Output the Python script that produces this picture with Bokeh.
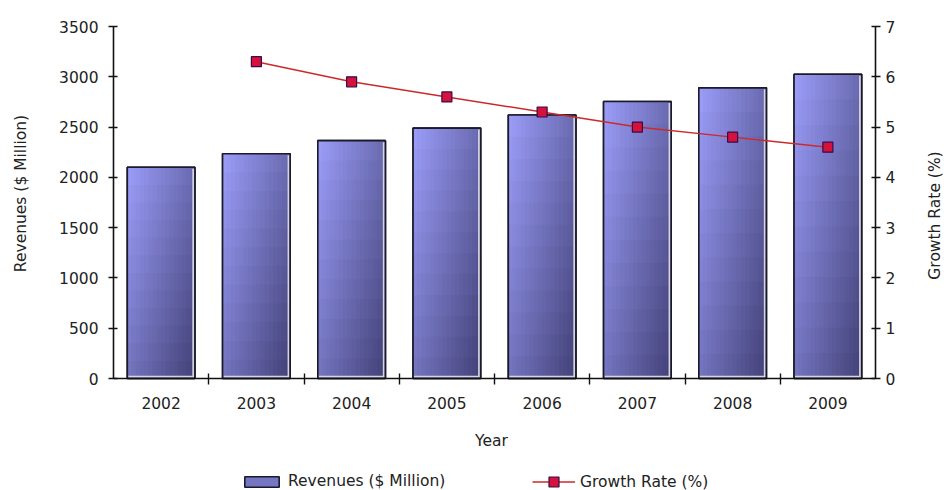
import math
from bokeh.plotting import figure
from bokeh.models import (Range1d, LinearAxis, FixedTicker, ColumnDataSource,
                          Legend, LegendItem, Label)
from bokeh.embed import file_html
from bokeh.resources import INLINE

years = ["2002", "2003", "2004", "2005", "2006", "2007", "2008", "2009"]
revenues = [2100, 2235, 2365, 2490, 2620, 2755, 2890, 3025]
growth_years = ["2003", "2004", "2005", "2006", "2007", "2008", "2009"]
growth = [6.3, 5.9, 5.6, 5.3, 5.0, 4.8, 4.6]

FONT = "DejaVu Sans"
TXT = "#222222"
FS = "15.5px"

W, H = 946, 490
FL, FR, FT, FB = 113, 875, 26, 378      # plotting area in pixels
NX = len(years)
YMAX, GMAX = 3500, 7
ux = (FR - FL) / NX                      # px per category
uy = (FB - FT)                           # px for full value span

p = figure(width=W, height=H, output_backend="svg", toolbar_location=None,
           x_range=Range1d(-FL / ux, NX + (W - FR) / ux),
           y_range=Range1d(-YMAX * (H - FB) / uy, YMAX + YMAX * FT / uy),
           min_border=0, background_fill_color="white",
           border_fill_color="white", outline_line_color=None)
p.grid.visible = False
p.xaxis.visible = False
p.yaxis.visible = False
p.extra_y_ranges = {"g": Range1d(-GMAX * (H - FB) / uy, GMAX + GMAX * FT / uy)}

def px_x(px):
    return (px - FL) / ux

def px_y(py):
    return (FB - py) / uy * YMAX

# gradient-filled bars (tiles)
BW = 0.71
N, M = 16, 12
light = (156, 158, 250)
dark = (66, 64, 118)
xc = [i + 0.5 for i in range(NX)]

bsrc = ColumnDataSource(dict(x=xc, top=revenues))
legend_bar = p.vbar(x="x", top="top", width=BW, source=bsrc, fill_color="#7476c4",
                    line_color="#1a1a2a", line_width=1.6)

L, R, B, T, C = [], [], [], [], []
for i, v in enumerate(revenues):
    cx = xc[i]
    for j in range(N):
        for k in range(M):
            L.append(cx - BW / 2 + BW * j / N)
            R.append(cx - BW / 2 + BW * (j + 1) / N + (0.012 if j < N - 1 else 0))
            B.append(v * k / M)
            T.append(v * (k + 1) / M + (12 if k < M - 1 else 0))
            t = 0.55 * (j + 0.5) / N + 0.45 * (1 - (k + 0.5) / M)
            c = tuple(int(round(light[q] + (dark[q] - light[q]) * t)) for q in range(3))
            C.append("#%02x%02x%02x" % c)
tiles = p.quad(left=L, right=R, bottom=B, top=T, fill_color=C, line_color=None)

# light inner edge on right and bottom of each bar
rx = [x + BW / 2 - 0.018 for x in xc]
p.segment(x0=rx, y0=[15] * NX, x1=rx, y1=[v - 15 for v in revenues],
          line_color="#d6d6e2", line_width=1.8)
p.segment(x0=[x - BW / 2 + 0.01 for x in xc], y0=[18] * NX,
          x1=[x + BW / 2 - 0.01 for x in xc], y1=[18] * NX,
          line_color="#d6d6e2", line_width=1.8)

outline = p.vbar(x="x", top="top", width=BW, source=bsrc, fill_color=None,
                 line_color="#1a1a2a", line_width=1.6)

# growth line
gx = [years.index(y) + 0.5 for y in growth_years]
gsrc = ColumnDataSource(dict(x=gx, y=growth))
gl = p.line("x", "y", source=gsrc, y_range_name="g", line_color="#cc2a2a", line_width=1.5)
gm = p.scatter("x", "y", source=gsrc, y_range_name="g", marker="square", size=10,
               fill_color="#d4123c", line_color="#3a0a4a", line_width=1.2)

def style(ax):
    ax.axis_line_color = "#111111"
    ax.axis_line_width = 1.6
    ax.major_tick_line_color = "#111111"
    ax.major_tick_line_width = 1.4
    ax.minor_tick_line_color = "#111111"
    ax.minor_tick_line_width = 1.4
    ax.major_label_text_font = FONT
    ax.major_label_text_font_size = FS
    ax.major_label_text_color = TXT

yl = LinearAxis(fixed_location=0, bounds=(0, YMAX),
                ticker=FixedTicker(ticks=list(range(0, YMAX + 1, 500)), minor_ticks=[]))
style(yl)
yl.major_tick_in = 4
yl.major_tick_out = 5
yl.major_label_standoff = 10
p.add_layout(yl, "left")

yr = LinearAxis(fixed_location=NX, y_range_name="g", bounds=(0, GMAX),
                ticker=FixedTicker(ticks=list(range(0, GMAX + 1)), minor_ticks=[]))
style(yr)
yr.major_tick_in = 4
yr.major_tick_out = 5
yr.major_label_standoff = 5
p.add_layout(yr, "right")

xa = LinearAxis(fixed_location=0, bounds=(0, NX),
                ticker=FixedTicker(ticks=xc, minor_ticks=list(range(1, NX))))
style(xa)
xa.major_label_overrides = {x: y for x, y in zip(xc, years)}
xa.major_tick_in = 0
xa.major_tick_out = 0
xa.minor_tick_in = 5
xa.minor_tick_out = 6
xa.major_label_standoff = 12
p.add_layout(xa, "below")

# axis titles
lab_kw = dict(text_font=FONT, text_font_size=FS, text_color=TXT,
              text_align="center", text_baseline="middle")
p.add_layout(Label(x=px_x(20), y=px_y(193), text="Revenues ($ Million)",
                   angle=math.pi / 2, **lab_kw))
p.add_layout(Label(x=px_x(934), y=px_y(215), text="Growth Rate (%)",
                   angle=math.pi / 2, **lab_kw))
p.add_layout(Label(x=px_x(491), y=px_y(440), text="Year", **lab_kw))

leg_kw = dict(orientation="horizontal", glyph_width=43, label_standoff=5,
              padding=0, margin=0, label_text_font=FONT, label_text_font_size=FS,
              label_text_color=TXT, border_line_color=None, background_fill_alpha=0)
legend1 = Legend(items=[LegendItem(label="Revenues ($ Million)", renderers=[legend_bar])],
                 location=(240, 0), glyph_height=13, **leg_kw)
legend2 = Legend(items=[LegendItem(label="Growth Rate (%)", renderers=[gl, gm])],
                 location=(532, -4), glyph_height=25, **leg_kw)
p.add_layout(legend1, "center")
p.add_layout(legend2, "center")

open("out.html", "w").write(file_html(p, INLINE))
